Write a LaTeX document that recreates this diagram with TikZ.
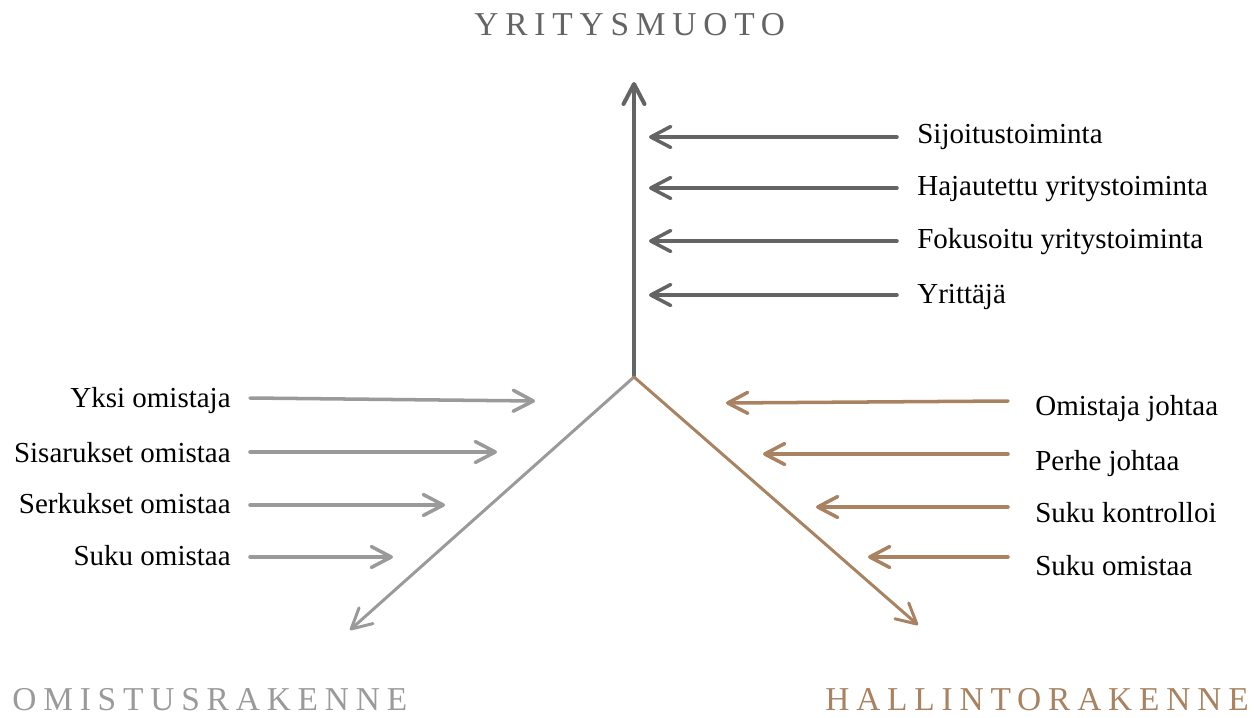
\documentclass[tikz,border=0pt]{standalone}
\usepackage{fontspec}
\setmainfont{Liberation Serif}
\usepackage{tikz}
\usetikzlibrary{arrows.meta}

\definecolor{akseli}{HTML}{646464}
\definecolor{omistus}{HTML}{9A9A9A}
\definecolor{hallinto}{HTML}{A98361}

\tikzset{
    nuoli/.style = {-{Straight Barb[length = 0.4cm, width = 0.42cm, round]}, line cap = round},
    teksti/.style = {inner sep = 0pt, font = \fontsize{16.5pt}{19pt}\selectfont},
    otsikko/.style = {inner sep = 0pt, font = \fontsize{19pt}{22pt}\selectfont\addfontfeatures{LetterSpace = 20.5}}
}

\begin{document}
\begin{tikzpicture}[x = 0.02cm, y = -0.02cm]
        \useasboundingbox (0, 0) rectangle (1254, 717);

        \draw
            (634, 377) coordinate(apex)
            (634, 82) coordinate(topEnd)
            (350, 630) coordinate(leftEnd)
            (918, 625) coordinate(rightEnd)
        ;

        \node[otsikko, text = akseli, anchor = base west] (muoto) at (474, 35) {YRITYSMUOTO};
        \node[otsikko, text = omistus, anchor = base west] (omistus) at (12, 710) {OMISTUSRAKENNE};
        \node[otsikko, text = hallinto, anchor = base west] (hallinto) at (825, 710) {HALLINTORAKENNE};

        \draw[nuoli, akseli, line width = 2.3pt] (apex) -- (topEnd);
        \draw[nuoli, omistus, line width = 1.7pt] (apex) -- (leftEnd);
        \draw[nuoli, hallinto, line width = 1.7pt] (apex) -- (rightEnd);

        % yritysmuoto
        \node[teksti, anchor = base west] (sijoitus) at (917, 143) {Sijoitustoiminta};
        \node[teksti, anchor = base west] (hajautettu) at (917, 195) {Hajautettu yritystoiminta};
        \node[teksti, anchor = base west] (fokusoitu) at (917, 248) {Fokusoitu yritystoiminta};
        \node[teksti, anchor = base west] (yrittaja) at (917, 303) {Yrittäjä};
        \draw
            (897, 137) coordinate(sijoitusA) (649, 137) coordinate(sijoitusB)
            (897, 188) coordinate(hajautettuA) (649, 188) coordinate(hajautettuB)
            (897, 241) coordinate(fokusoituA) (649, 241) coordinate(fokusoituB)
            (897, 295) coordinate(yrittajaA) (649, 295) coordinate(yrittajaB)
        ;
        \draw[nuoli, akseli, line width = 2pt] (sijoitusA) -- (sijoitusB);
        \draw[nuoli, akseli, line width = 2pt] (hajautettuA) -- (hajautettuB);
        \draw[nuoli, akseli, line width = 2pt] (fokusoituA) -- (fokusoituB);
        \draw[nuoli, akseli, line width = 2pt] (yrittajaA) -- (yrittajaB);

        % omistusrakenne
        \node[teksti, anchor = base east] (yksi) at (231, 407) {Yksi omistaja};
        \node[teksti, anchor = base east] (sisarukset) at (231, 462) {Sisarukset omistaa};
        \node[teksti, anchor = base east] (serkukset) at (231, 513) {Serkukset omistaa};
        \node[teksti, anchor = base east] (sukuO) at (231, 565) {Suku omistaa};
        \draw
            (250, 398) coordinate(yksiA) (535, 401) coordinate(yksiB)
            (250, 452) coordinate(sisaruksetA) (497, 452) coordinate(sisaruksetB)
            (250, 505) coordinate(serkuksetA) (445, 505) coordinate(serkuksetB)
            (250, 557) coordinate(sukuOA) (393, 557) coordinate(sukuOB)
        ;
        \draw[nuoli, omistus, line width = 2pt] (yksiA) -- (yksiB);
        \draw[nuoli, omistus, line width = 2pt] (sisaruksetA) -- (sisaruksetB);
        \draw[nuoli, omistus, line width = 2pt] (serkuksetA) -- (serkuksetB);
        \draw[nuoli, omistus, line width = 2pt] (sukuOA) -- (sukuOB);

        % hallintorakenne
        \node[teksti, anchor = base west] (omistaja) at (1035, 415) {Omistaja johtaa};
        \node[teksti, anchor = base west] (perhe) at (1035, 470) {Perhe johtaa};
        \node[teksti, anchor = base west] (kontrolli) at (1035, 522) {Suku kontrolloi};
        \node[teksti, anchor = base west] (sukuH) at (1035, 575) {Suku omistaa};
        \draw
            (1008, 401) coordinate(omistajaA) (726, 403) coordinate(omistajaB)
            (1008, 454) coordinate(perheA) (763, 454) coordinate(perheB)
            (1008, 507) coordinate(kontrolliA) (816, 507) coordinate(kontrolliB)
            (1008, 557) coordinate(sukuHA) (868, 557) coordinate(sukuHB)
        ;
        \draw[nuoli, hallinto, line width = 2pt] (omistajaA) -- (omistajaB);
        \draw[nuoli, hallinto, line width = 2pt] (perheA) -- (perheB);
        \draw[nuoli, hallinto, line width = 2pt] (kontrolliA) -- (kontrolliB);
        \draw[nuoli, hallinto, line width = 2pt] (sukuHA) -- (sukuHB);
    \end{tikzpicture}
\end{document}
